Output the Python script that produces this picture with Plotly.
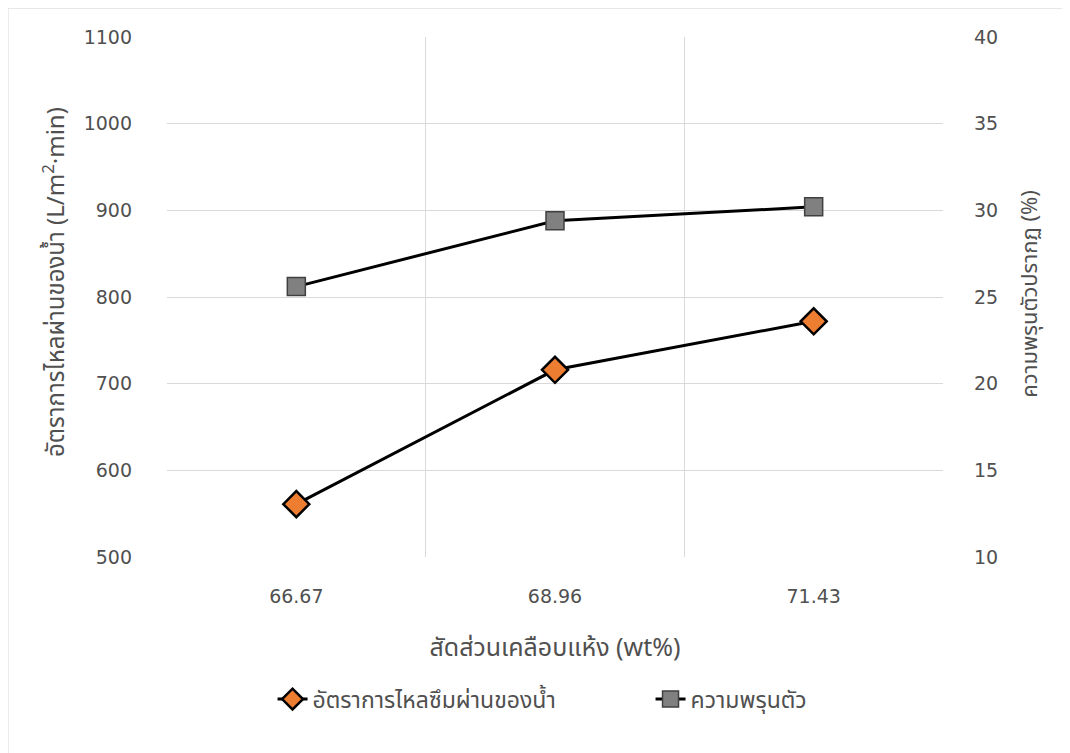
import plotly.graph_objects as go

categories = ["66.67", "68.96", "71.43"]
flux = [561, 716, 772]
porosity = [25.6, 29.4, 30.2]

ticks_left = [500, 600, 700, 800, 900, 1000, 1100]
ticks_right = [10, 15, 20, 25, 30, 35, 40]

FONT = "Noto Sans, Noto Sans Thai, Tahoma, sans-serif"
TICKFONT = "DejaVu Sans, Noto Sans, sans-serif"
GRID = "#d9d9d9"
TXT = "#505050"

fig = go.Figure()
fig.add_trace(go.Scatter(
    x=categories, y=flux, name="อัตราการไหลซึมผ่านของน้ำ",
    mode="lines+markers",
    line=dict(color="black", width=3),
    marker=dict(symbol="diamond", size=20, color="#ED7D31",
                line=dict(color="black", width=2.5)),
    yaxis="y"))
fig.add_trace(go.Scatter(
    x=categories, y=porosity, name="ความพรุนตัว",
    mode="lines+markers",
    line=dict(color="black", width=3),
    marker=dict(symbol="square", size=18, color="#808080",
                line=dict(color="#404040", width=1.5)),
    yaxis="y2"))

fig.update_layout(
    width=1070, height=753,
    margin=dict(l=159, r=135, t=29, b=204),
    plot_bgcolor="white", paper_bgcolor="white",
    font=dict(family=FONT, size=18, color=TXT),
    showlegend=True,
    legend=dict(orientation="h", x=0.136, xanchor="left", y=-0.232, yanchor="top",
                font=dict(size=23, color=TXT), itemwidth=30,
                traceorder="normal", entrywidthmode="pixels", entrywidth=333),
    xaxis=dict(type="category", tickson="boundaries", range=[-0.5, 2.5],
               showgrid=True, gridcolor=GRID, gridwidth=1, showline=False,
               zeroline=False, ticks="", ticklabelstandoff=26,
               tickfont=dict(family=TICKFONT, size=19, color=TXT),
               title=dict(text="สัดส่วนเคลือบแห้ง (wt%)", font=dict(size=25, color=TXT), standoff=32)),
    yaxis=dict(range=[500, 1100], tickvals=ticks_left, showgrid=True,
               gridcolor=GRID, zeroline=False, showline=False, ticks="",
               ticklabelstandoff=34,
               tickfont=dict(family=TICKFONT, size=19, color=TXT)),
    yaxis2=dict(range=[10, 40], tickvals=ticks_right, overlaying="y", side="right",
                showgrid=False, zeroline=False, showline=False, ticks="",
                ticklabelstandoff=30,
                tickfont=dict(family=TICKFONT, size=19, color=TXT)),
    annotations=[
        dict(text="อัตราการไหลผ่านของน้ำ (L/m<sup>2</sup>·min)", textangle=-90,
             xref="paper", yref="paper", x=-0.1456, y=0.529,
             xanchor="center", yanchor="middle", showarrow=False,
             font=dict(size=24, color=TXT)),
        dict(text="ความพรุนตัวปรากฏ (%)", textangle=-90,
             xref="paper", yref="paper", x=1.1095, y=0.506,
             xanchor="center", yanchor="middle", showarrow=False,
             font=dict(size=22, color=TXT)),
    ],
)

fig.add_shape(type="line", xref="paper", yref="paper",
              x0=-0.2049, x1=1.2, y0=1.0555, y1=1.0555,
              line=dict(color=GRID, width=1))
fig.add_shape(type="line", xref="paper", yref="paper",
              x0=-0.2049, x1=-0.2049, y0=-0.4, y1=1.0555,
              line=dict(color=GRID, width=1))

fig.write_html("out.html")
